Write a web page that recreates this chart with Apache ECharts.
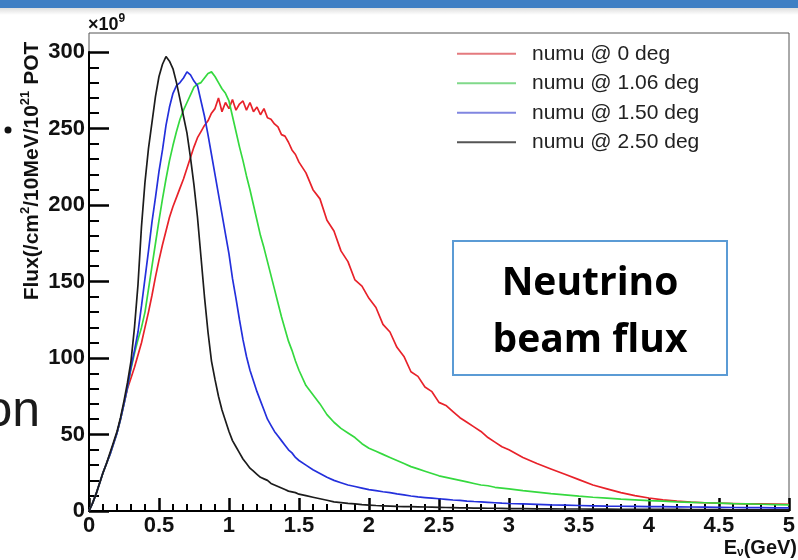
<!DOCTYPE html>
<html><head><meta charset="utf-8">
<script src="https://cdn.jsdelivr.net/npm/echarts@6/dist/echarts.min.js"></script>
<style>html,body{margin:0;padding:0;background:#fff}#c{width:798px;height:560px}</style>
</head><body><div id="c"></div>
<script>
// Neutrino energy (GeV)
const energies = [0,0.025,0.05,0.075,0.1,0.125,0.15,0.175,0.2,0.225,0.25,0.275,0.3,0.325,0.35,0.375,0.4,0.425,0.45,0.475,0.5,0.525,0.55,0.575,0.6,0.625,0.65,0.675,0.7,0.725,0.75,0.775,0.8,0.825,0.85,0.875,0.9,0.925,0.95,0.975,1.0,1.025,1.05,1.075,1.1,1.125,1.15,1.175,1.2,1.225,1.25,1.275,1.3,1.325,1.35,1.375,1.4,1.425,1.45,1.475,1.5,
1.55,1.6,1.65,1.7,1.75,1.8,1.85,1.9,1.95,2.0,2.05,2.1,2.15,2.2,2.25,2.3,2.35,2.4,2.45,2.5,2.55,2.6,2.65,2.7,2.75,2.8,2.85,2.9,2.95,3.0,
3.1,3.2,3.3,3.4,3.5,3.6,3.7,3.8,3.9,4.0,4.1,4.2,4.3,4.4,4.5,4.6,4.7,4.8,4.9,5.0];

// Flux (x10^9 /cm2/10MeV/10^21 POT)
const flux0deg = [0,5,11,18,25,31,37,44,51,60,70,80,87,94,102,110,120,130,141,153,164,174,183,192,199,205,211,217,224,231,238,244,248,252,255,260,263,270,261,267,263,269,262,266,268,262,267,261,264,259,263,257,256,253,251,246,245,241,236,233,228,
221,210,204,190,183,170,163,151,147,139,133,122,117,107,101,91,88,81,78,71,69,65,61,58,55,52,48,45,42,40,
35,31,27.5,24,20.5,17,14.5,12,10,8.5,7.3,6.4,5.8,5.4,5.1,4.9,4.7,4.6,4.5,4.4];

const flux106deg = [0,5,11,18,25,31,37,44,51,60,70,81,93,103,112,120,130,145,160,175,190,204,217,229,239,248,256,262,267,272,277,279,280,283,286,287,284,280,276,273,268,258,248,238,229,219,210,200,190,180,172,163,154,145,136,127,119,111,105,98,92,
82,76,70,63,58,54,51,48,44,41,39,37,35,33,31,29,27.5,26,24.5,23,22,21,20,19,18,17,16.5,15.5,15,14.5,
13.3,12.3,11.3,10.5,9.7,9,8.4,7.8,7.3,6.8,6.4,6,5.7,5.4,5.1,4.8,4.6,4.4,4.2,4.0];

const flux150deg = [0,5,11,18,25,31,37,44,51,60,70,81,94,105,117,134,152,170,189,205,222,236,252,264,273,278,280,283,287,285,281,278,268,258,246,233,220,207,194,181,168,152,139,125,112,101,92,85,78,72,66,60,56,52,49,46,43,40,38,35,33,
30,27,24.5,22,20,18.5,17,16,15,14,13.3,12.6,12,11.2,10.5,9.8,9.2,8.8,8.4,8,7.6,7.2,6.9,6.5,6.2,6,5.7,5.4,5.1,4.9,
4.6,4.3,4.0,3.8,3.6,3.4,3.2,3.1,3.0,2.9,2.8,2.7,2.6,2.5,2.4,2.3,2.2,2.2,2.1,2.0];

const flux250deg = [0,5,11,18,25,31,38,45,52,61,72,84,98,120,148,186,215,237,254,271,284,292,297,294,289,280,269,258,247,231,213,192,166,140,117,98,86,75,66,59,52,46,42,38,34,31,28,26,24,22,21,20,18,17,16,15,14,13,12.5,12,11,
10,9,8,7,6,5.5,5,4.6,4.2,3.9,3.6,3.4,3.2,3,2.9,2.8,2.7,2.6,2.5,2.4,2.3,2.2,2.1,2,1.9,1.9,1.8,1.8,1.7,1.6,
1.5,1.4,1.4,1.3,1.3,1.2,1.2,1.1,1.1,1.0,1.0,1.0,0.9,0.9,0.9,0.8,0.8,0.8,0.8,0.7];

const seriesNames = ['numu @ 0 deg','numu @ 1.06 deg','numu @ 1.50 deg','numu @ 2.50 deg'];
const xTickLabels = ['0','0.5','1','1.5','2','2.5','3','3.5','4','4.5','5'];
const yTickLabels = ['0','50','100','150','200','250','300'];

const seriesColors = ['#e8222a','#35d93f','#2430dc','#1c1c1c'];
const legendColors = ['#e47a7e','#80d98a','#8086e0','#555555'];
const seriesData = [flux0deg, flux106deg, flux150deg, flux250deg];
const font = "'Liberation Sans', Arial, sans-serif";

const chart = echarts.init(document.getElementById('c'));
const option = {
  animation:false,
  backgroundColor:'#ffffff',
  grid:{left:89, right:9, top:52, bottom:49},
  xAxis:{
    type:'value', min:0, max:5, interval:0.5,
    splitLine:{show:false},
    axisLine:{show:true, lineStyle:{color:'#000', width:2}},
    axisTick:{show:true, inside:true, length:13, lineStyle:{color:'#000', width:2.5}},
    minorTick:{show:true, splitNumber:5, length:7, lineStyle:{color:'#000', width:2}},
    axisLabel:{margin:4, color:'#111', fontSize:22, fontWeight:'bold', fontFamily:font,
      formatter:v=>xTickLabels[Math.round(v/0.5)]}
  },
  yAxis:{
    type:'value', min:0, max:300, interval:50,
    splitLine:{show:false},
    axisLine:{show:true, lineStyle:{color:'#000', width:2}},
    axisTick:{show:true, inside:true, length:20, lineStyle:{color:'#000', width:2.5}},
    minorTick:{show:true, splitNumber:5, length:10, lineStyle:{color:'#000', width:2}},
    axisLabel:{margin:4, color:'#111', fontSize:22, fontWeight:'bold', fontFamily:font,
      formatter:v=>yTickLabels[Math.round(v/50)]}
  },
  legend:{
    orient:'vertical', left:452, top:34, itemWidth:59, itemHeight:2, itemGap:0,
    icon:'path://M0,0L59,0L59,2L0,2Z',
    textStyle:{fontSize:21, fontFamily:font, color:'#222', lineHeight:29.5, padding:[0,0,0,11]},
    data:seriesNames.map((n,i)=>({name:n, itemStyle:{color:legendColors[i]}}))
  },
  series:seriesNames.map((n,i)=>({
    name:n, type:'line', symbol:'none', showSymbol:false, smooth:false,
    color:seriesColors[i],
    lineStyle:{color:seriesColors[i], width:1.7},
    data:energies.map((e,k)=>[e, seriesData[i][k]]),
    z:2+i
  })),
  graphic:[
    {type:'rect', shape:{x:0,y:0,width:798,height:8}, style:{fill:'#3f7fc4'}},
    {type:'rect', shape:{x:0,y:8,width:798,height:7}, style:{fill:new echarts.graphic.LinearGradient(0,0,0,1,[{offset:0,color:'rgba(0,0,0,0.13)'},{offset:1,color:'rgba(0,0,0,0)'}])}},
    {type:'polyline', shape:{points:[[89,52],[89,33],[789,33],[789,511]]}, style:{fill:null, stroke:'#555', lineWidth:1}},
    {type:'circle', shape:{cx:8, cy:130, r:3.5}, style:{fill:'#111'}},
    {type:'text', x:40, y:412, style:{text:'on', font:"normal 50px 'Liberation Sans', Arial, sans-serif", fill:'#1a1a1a', align:'right', verticalAlign:'middle'}},
    {type:'text', x:88, y:25, style:{text:'{b|×10}{s|9}', align:'left', verticalAlign:'middle',
      rich:{b:{fontSize:18, fontWeight:'bold', fontFamily:font, fill:'#111'}, s:{fontSize:12, fontWeight:'bold', fontFamily:font, fill:'#111', padding:[0,0,12,0]}}}},
    {type:'text', x:32, y:171, rotation:Math.PI/2, style:{text:'{b|Flux(/cm}{s|2}{b|/10MeV/10}{s|21}{b| POT}', align:'center', verticalAlign:'middle',
      rich:{b:{fontSize:21, fontWeight:'bold', fontFamily:font, fill:'#111'}, s:{fontSize:13, fontWeight:'bold', fontFamily:font, fill:'#111', padding:[0,0,13,0]}}}},
    {type:'text', x:797, y:548, style:{text:'{b|E}{sub|ν}{b|(GeV)}', align:'right', verticalAlign:'middle',
      rich:{b:{fontSize:20, fontWeight:'bold', fontFamily:font, fill:'#111'}, sub:{fontSize:12, fontWeight:'bold', fontFamily:font, fill:'#111', padding:[9,0,0,0]}}}},
    {type:'rect', shape:{x:453,y:241,width:274,height:134}, style:{fill:'#fff', stroke:'#5b9bd5', lineWidth:2}},
    {type:'text', x:590, y:312, style:{text:'Neutrino\nbeam flux', align:'center', verticalAlign:'middle', lineHeight:57,
      font:"bold 39px 'Open Sans', sans-serif", fill:'#000'}}
  ]
};
chart.setOption(option);
</script></body></html>
